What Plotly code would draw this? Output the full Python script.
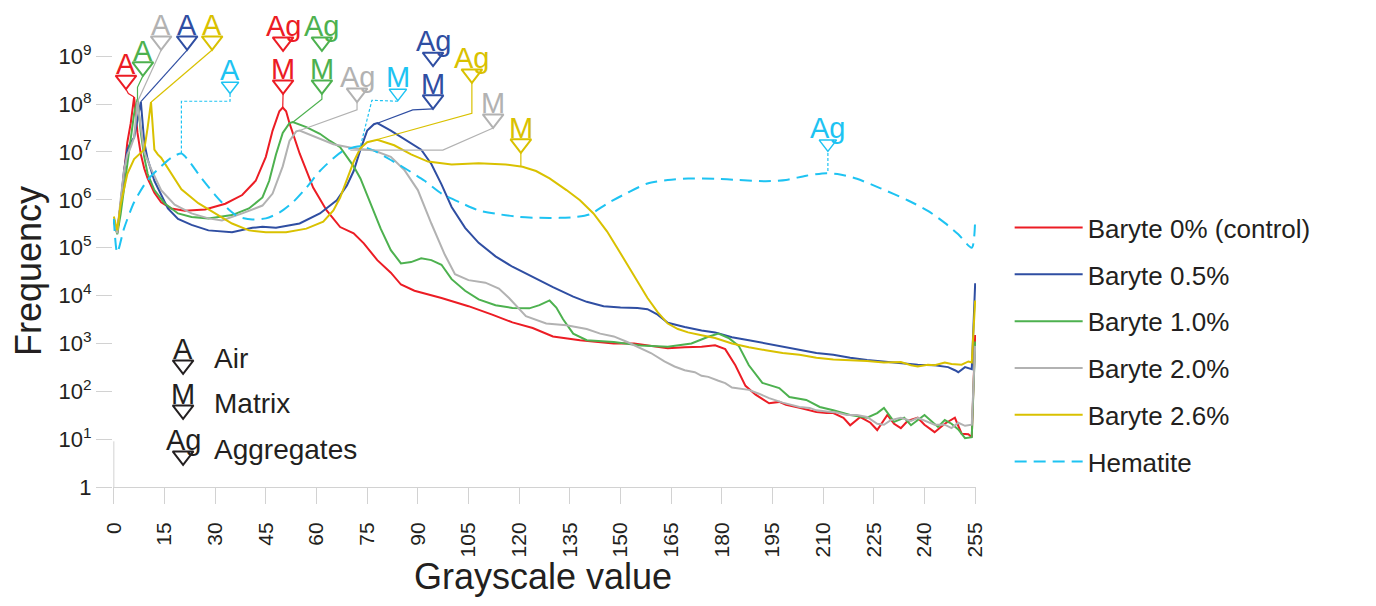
import plotly.graph_objects as go

# ---------------- data ----------------
x_ticks = [0, 15, 30, 45, 60, 75, 90, 105, 120, 135, 150, 165, 180, 195, 210, 225, 240, 255]
y_tick_vals = [1, 1e1, 1e2, 1e3, 1e4, 1e5, 1e6, 1e7, 1e8, 1e9]
y_tick_text = ["1"] + ["10<sup>%d</sup>" % k for k in range(1, 10)]

red_x = [0,1,2,3,4,5,6,7,8,9,10,12,14,17,21,27,33,38,42,45,47,49,50,51,52,55,59,63,67,71,74,78,82,85,89,97,105,112,118,124,130,138,144,148,154,158,164,169,174,178,181,184,187,190,194,197,199,203,206,208,211,213,216,218,221,224,226,229,231,233,235,238,240,243,246,249,251,253,254,255]
red_y = [3.5e5,2.0e5,7.9e5,3.2e6,1.6e7,4.0e7,1.4e8,2.5e7,8.9e6,4.5e6,2.8e6,1.4e6,8.9e5,6.6e5,5.9e5,6.3e5,8.3e5,1.26e6,2.5e6,7.9e6,2.8e7,7.1e7,8.5e7,7.1e7,4.0e7,9.3e6,1.8e6,6.0e5,2.7e5,2.0e5,1.23e5,5.5e4,3.0e4,1.7e4,1.26e4,8.9e3,6.0e3,4.0e3,2.75e3,2.1e3,1.4e3,1.17e3,1.07e3,1.0e3,1.0e3,9.1e2,7.9e2,8.3e2,8.5e2,9.1e2,7.6e2,3.5e2,1.3e2,85,56,60,52,45,40,37,35,35,28,19.5,29,22,15.5,32,21,17,24,28,20,14,21,28,13,12.6,11,1.5e3]

blue_x = [0,1,2,3,4,5,6,7,8,9,10,12,14,16,19,23,28,35,41,44,48,55,61,66,69,71,73,75,77,78,82,87,91,94,97,100,104,108,113,118,124,130,136,140,145,150,155,158,161,164,169,174,178,183,188,193,198,203,208,213,218,223,228,233,238,243,247,249,250,252,254,255]
blue_y = [4.0e5,2.1e5,7.9e5,4.0e6,1.12e7,1.6e7,2.0e7,5.0e7,1.12e8,1.6e7,7.1e6,2.5e6,1.26e6,6.6e5,4.0e5,3.0e5,2.3e5,2.1e5,2.6e5,2.75e5,2.6e5,3.2e5,5.2e5,9.8e5,2.0e6,4.0e6,1.12e7,2.8e7,3.8e7,4.0e7,2.8e7,1.7e7,1.12e7,5.6e6,2.1e6,7.1e5,2.6e5,1.26e5,6.6e4,4.0e4,2.4e4,1.5e4,9.5e3,7.4e3,6.0e3,5.6e3,5.5e3,5.2e3,4.0e3,2.7e3,2.2e3,1.86e3,1.7e3,1.35e3,1.17e3,1.0e3,8.7e2,7.4e2,6.3e2,5.8e2,5.0e2,4.5e2,4.2e2,3.9e2,3.6e2,3.5e2,3.2e2,2.75e2,2.5e2,3.2e2,2.9e2,1.8e4]

green_x = [0,1,2,3,4,5,6,7,8,9,10,12,15,19,23,28,35,40,44,46,48,50,52,53,57,61,64,67,69,71,73,76,79,82,85,88,91,94,97,100,104,108,113,118,123,126,129,131,133,136,140,148,156,164,171,176,179,182,185,188,192,197,200,205,209,213,218,223,226,228,231,234,236,240,244,246,248,250,252,254,255]
green_y = [4.0e5,1.9e5,5.0e5,1.6e6,6.3e6,2.0e7,6.3e7,1.26e8,2.5e7,7.9e6,3.5e6,1.6e6,8.5e5,5.2e5,4.4e5,4.1e5,4.8e5,6.6e5,1.12e6,2.5e6,8.9e6,2.5e7,4.0e7,4.2e7,3.3e7,2.4e7,1.7e7,1.26e7,7.9e6,5.0e6,2.8e6,8.5e5,2.5e5,8.9e4,4.7e4,5.0e4,6.0e4,5.5e4,4.4e4,2.2e4,1.26e4,8.3e3,6.3e3,5.5e3,5.4e3,6.3e3,7.9e3,5.6e3,3.2e3,1.6e3,1.17e3,1.07e3,9.1e2,8.5e2,1.0e3,1.38e3,1.6e3,1.3e3,8.9e2,3.5e2,1.5e2,1.17e2,76,66,47,40,32,28,35,45,23,28,19.5,32,18,25,21,16,10.5,11,1.1e3]

gray_x = [0,1,2,3,4,5,6,7,8,9,11,14,18,23,28,32,38,44,47,50,52,54,55,60,65,71,77,82,86,90,94,98,101,105,110,114,117,122,128,134,140,144,148,152,156,159,163,166,169,172,174,176,179,181,183,186,188,191,194,198,201,203,206,208,211,214,217,220,223,226,228,230,233,236,238,241,243,246,248,250,252,254,255]
gray_y = [4.0e5,2.0e5,1.0e6,4.0e6,8.9e6,1.26e7,2.0e7,1.12e8,3.2e7,1.0e7,4.5e6,1.6e6,7.9e5,5.2e5,4.1e5,3.7e5,5.2e5,7.6e5,1.35e6,5.0e6,1.7e7,2.7e7,2.8e7,2.0e7,1.45e7,1.2e7,1.07e7,7.9e6,4.2e6,1.6e6,3.2e5,7.1e4,2.8e4,2.1e4,1.86e4,1.4e4,8.9e3,3.7e3,2.6e3,2.4e3,2.0e3,1.6e3,1.4e3,1.07e3,7.9e2,6.3e2,4.2e2,3.3e2,2.75e2,2.5e2,2.1e2,2.0e2,1.66e2,1.48e2,1.2e2,1.12e2,1.07e2,89,72,58,52,47,45,40,38,36,32,32,29,21,20,25,28,24,28,23,20,20,17,22,19,20,8.9e2]

yellow_x = [0,1,2,3,4,6,8,9,10,11,12,13,14,17,20,25,30,35,40,45,51,57,62,65,67,69,71,73,75,78,83,88,93,100,108,116,121,125,129,134,138,142,146,149,152,155,158,161,164,167,170,174,178,183,188,193,198,203,208,213,218,223,228,233,236,238,241,243,246,248,251,253,254,255]
yellow_y = [4.5e5,2.3e5,7.9e5,1.8e6,3.5e6,7.1e6,9.5e6,1.12e7,3.2e7,1.1e8,1.12e7,8.9e6,7.6e6,3.5e6,1.66e6,8.5e5,5.2e5,3.2e5,2.3e5,2.1e5,2.1e5,2.5e5,3.5e5,6.0e5,1.12e6,2.8e6,6.3e6,1.2e7,1.6e7,1.8e7,1.38e7,8.9e6,6.3e6,5.5e6,5.8e6,5.5e6,4.9e6,4.0e6,2.8e6,1.6e6,9.8e5,5.2e5,2.2e5,1.0e5,4.5e4,2.0e4,8.9e3,4.5e3,2.6e3,2.0e3,1.7e3,1.48e3,1.3e3,1.0e3,8.3e2,7.2e2,6.3e2,5.8e2,5.0e2,4.6e2,4.5e2,4.3e2,4.0e2,4.1e2,3.5e2,3.3e2,3.6e2,3.5e2,4.0e2,3.7e2,3.6e2,4.2e2,4.0e2,7.9e3]

hem_x = [0,1,3,6,10,14,17,20,22,26,30,34,37,41,45,49,53,57,61,65,68,71,73,77,82,87,92,97,103,108,114,120,126,132,137,141,146,152,158,164,170,178,185,193,199,205,211,215,220,227,235,241,246,250,254,255]
hem_y = [4.0e5,7.9e4,2.5e5,8.9e5,2.6e6,5.0e6,7.6e6,9.3e6,6.8e6,2.8e6,1.26e6,6.3e5,4.4e5,3.9e5,4.1e5,5.4e5,8.9e5,1.8e6,4.0e6,7.4e6,1.07e7,1.26e7,1.32e7,1.07e7,6.8e6,4.2e6,2.5e6,1.35e6,8.5e5,6.0e5,5.0e5,4.4e5,4.2e5,4.2e5,4.4e5,5.0e5,8.3e5,1.4e6,2.2e6,2.6e6,2.8e6,2.75e6,2.6e6,2.45e6,2.6e6,3.2e6,3.6e6,3.4e6,2.75e6,1.74e6,9.8e5,5.9e5,3.3e5,1.9e5,1.0e5,4.0e5]

# ---------------- styling ----------------
RED = "#ec1c24"
BLUE = "#2f4ea2"
GREEN = "#4db14f"
GRAY = "#b2b2b2"
YELLOW = "#d9c100"
CYAN = "#1ec3f2"
INK = "#231f20"
AXC = "#d2d2d2"
FONT = "Arial"

series = [
    ("Baryte 0% (control)", red_x, red_y, RED, "solid"),
    ("Baryte 0.5%", blue_x, blue_y, BLUE, "solid"),
    ("Baryte 1.0%", green_x, green_y, GREEN, "solid"),
    ("Baryte 2.0%", gray_x, gray_y, GRAY, "solid"),
    ("Baryte 2.6%", yellow_x, yellow_y, YELLOW, "solid"),
    ("Hematite", hem_x, hem_y, CYAN, "12px,7px"),
]

# peak labels: colour, label, x, log10(y) of triangle centre, leader path (x, log10 y), dashed
peak_marks = [
    (RED, "A", 3.6, 8.50, [(3.6, 8.31), (4.3, 8.22), (6, 8.15)], False),
    (GREEN, "A", 8.6, 8.78, [(8.6, 8.59), (7, 8.35), (7, 8.1)], False),
    (GRAY, "A", 14.0, 9.32, [(14.0, 9.13), (7, 8.05)], False),
    (BLUE, "A", 21.7, 9.32, [(21.7, 9.13), (8, 8.05)], False),
    (YELLOW, "A", 29.1, 9.32, [(29.1, 9.13), (11, 8.04)], False),
    (CYAN, "A", 34.4, 8.38, [(34.4, 8.21), (34.4, 8.06), (20, 8.06), (20, 6.97)], True),
    (RED, "Ag", 50.1, 9.30, None, False),
    (RED, "M", 50.1, 8.40, [(50.1, 8.21), (50, 7.93)], False),
    (GREEN, "Ag", 61.6, 9.30, None, False),
    (GREEN, "M", 61.6, 8.40, [(61.6, 8.21), (61.6, 8.1), (53, 7.62)], False),
    (GRAY, "Ag", 72.0, 8.23, [(72.0, 8.04), (72.0, 7.88), (55, 7.45)], False),
    (CYAN, "M", 84.1, 8.23, [(84.1, 8.06), (76.4, 8.08), (73, 7.12)], True),
    (BLUE, "Ag", 94.5, 8.98, None, False),
    (BLUE, "M", 94.5, 8.09, [(94.5, 7.9), (88.5, 7.88), (78, 7.6)], False),
    (YELLOW, "Ag", 106.0, 8.63, [(106.0, 8.44), (106.0, 7.81), (78, 7.26)], False),
    (GRAY, "M", 112.3, 7.69, [(112.3, 7.5), (97.4, 7.04), (70, 7.04)], False),
    (YELLOW, "M", 120.5, 7.17, [(120.5, 6.98), (120.5, 6.69)], False),
    (CYAN, "Ag", 211.4, 7.17, [(211.4, 6.98), (211.4, 6.56)], True),
]

key_marks = [("A", "Air", 2.55), ("M", "Matrix", 1.61), ("Ag", "Aggregates", 0.65)]
KEY_X, KEY_TEXT_X = 20.5, 29.0

fig = go.Figure()

for i, (name, xs, ys, col, dash) in enumerate(series):
    fig.add_trace(go.Scatter(
        x=xs, y=ys, mode="lines", name=name, legendgroup="g%d" % i,
        line=dict(color=col, width=2, dash=dash,
                  shape="spline" if name == "Hematite" else "linear",
                  smoothing=0.7 if name == "Hematite" else None),
        hoverinfo="skip"))

annotations = []
TRI = 18
for col, lab, px, ply, path, dashed in peak_marks:
    if path:
        fig.add_trace(go.Scatter(
            x=[p[0] for p in path], y=[10 ** p[1] for p in path], mode="lines",
            line=dict(color=col, width=1.2, dash="3px,2px" if dashed else "solid"),
            showlegend=False, hoverinfo="skip"))
    fig.add_trace(go.Scatter(
        x=[px], y=[10 ** ply], mode="markers",
        marker=dict(symbol="triangle-down-open", size=TRI if not dashed else 15,
                    line=dict(color=col, width=2 if not dashed else 1.5), color=col),
        showlegend=False, hoverinfo="skip", cliponaxis=False))
    annotations.append(dict(x=px, y=ply, xref="x", yref="y", text=lab, showarrow=False,
                            yanchor="bottom", xanchor="center", yshift=-2,
                            font=dict(size=29, color=col, family=FONT)))

for lab, desc, ly in key_marks:
    fig.add_trace(go.Scatter(
        x=[KEY_X], y=[10 ** ly], mode="markers",
        marker=dict(symbol="triangle-down-open", size=TRI, line=dict(color=INK, width=2), color=INK),
        showlegend=False, hoverinfo="skip", cliponaxis=False))
    annotations.append(dict(x=KEY_X, y=ly, xref="x", yref="y", text=lab, showarrow=False,
                            yanchor="bottom", xanchor="center", yshift=-2,
                            font=dict(size=29, color=INK, family=FONT)))
    annotations.append(dict(x=KEY_TEXT_X, y=ly, xref="x", yref="y", text=desc, showarrow=False,
                            yanchor="middle", xanchor="left", yshift=6,
                            font=dict(size=28, color=INK, family=FONT)))

annotations.append(dict(x=-0.0985, y=0.449, xref="paper", yref="paper", text="Frequency",
                        showarrow=False, textangle=-90, xanchor="center", yanchor="middle",
                        font=dict(size=36, color=INK, family=FONT)))
annotations.append(dict(x=0.498, y=-0.187, xref="paper", yref="paper", text="Grayscale value",
                        showarrow=False, xanchor="center", yanchor="middle",
                        font=dict(size=36, color=INK, family=FONT)))

fig.update_layout(
    width=1376, height=606,
    margin=dict(l=113, r=400, t=6, b=119),
    plot_bgcolor="white", paper_bgcolor="white",
    font=dict(family=FONT, color=INK),
    showlegend=True,
    xaxis=dict(range=[-0.25, 255.25], tickmode="array", tickvals=x_ticks,
               ticktext=[str(v) for v in x_ticks], tickangle=-90,
               ticks="outside", ticklen=16, tickcolor=AXC, tickwidth=1,
               showgrid=False, zeroline=False, showline=True, linecolor=AXC, linewidth=1,
               tickfont=dict(size=21, color=INK), ticklabelstandoff=10),
    yaxis=dict(type="log", range=[0, 10.05], tickmode="array", tickvals=y_tick_vals,
               ticktext=y_tick_text, ticks="outside", ticklen=16, tickcolor=AXC, tickwidth=1,
               showgrid=False, zeroline=False, showline=False,
               tickfont=dict(size=22, color=INK)),
    legend=dict(x=1.039, y=0.588, xanchor="left", yanchor="top",
                font=dict(size=26, color=INK, family=FONT),
                tracegroupgap=10, itemwidth=68, bgcolor="rgba(0,0,0,0)"),
    shapes=[dict(type="line", xref="x", yref="y", x0=0, x1=0, y0=0, y1=9,
                 line=dict(color=AXC, width=1), layer="below")],
    annotations=annotations,
)

fig.write_html("out.html")
